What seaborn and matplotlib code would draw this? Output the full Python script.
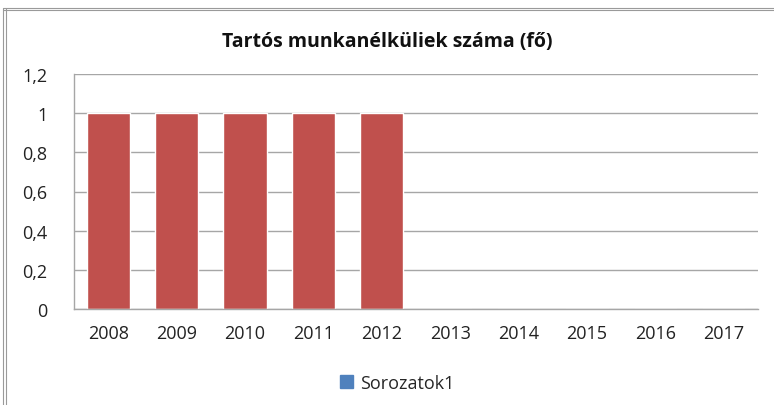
import matplotlib
matplotlib.use("Agg")
import matplotlib.pyplot as plt
import matplotlib.patches as mpatches
import seaborn as sns
import pandas as pd

# data
years = ["2008", "2009", "2010", "2011", "2012", "2013", "2014", "2015", "2016", "2017"]
values = [1, 1, 1, 1, 1, 0, 0, 0, 0, 0]
y_ticks = [0, 0.2, 0.4, 0.6, 0.8, 1.0, 1.2]
y_labels = ["0", "0,2", "0,4", "0,6", "0,8", "1", "1,2"]
title = "Tartós munkanélküliek száma (fő)"
series_name = "Sorozatok1"

df = pd.DataFrame({"year": years, "value": values})

sns.set_style("white")
plt.rcParams["font.family"] = ["Open Sans", "DejaVu Sans"]

fig = plt.figure(figsize=(7.74, 4.06), dpi=100)
ax = fig.add_axes([74 / 774, 96 / 406, 684 / 774, 235 / 406])

sns.barplot(data=df, x="year", y="value", color="#C0504D", saturation=1,
            width=0.63, ax=ax)

ax.set_ylim(0, 1.2)
ax.set_xlim(-0.5, len(years) - 0.5)
ax.set_yticks(y_ticks)
ax.set_yticklabels(y_labels)
ax.yaxis.grid(True, color="#A6A6A6", linewidth=1)
ax.set_axisbelow(True)
ax.set_xlabel("")
ax.set_ylabel("")
ax.tick_params(axis="both", length=0, labelsize=13, colors="#222222")
ax.tick_params(axis="x", pad=11)
ax.tick_params(axis="y", pad=19)

for side in ["top", "right"]:
    ax.spines[side].set_visible(False)
for side in ["left", "bottom"]:
    ax.spines[side].set_color("#A6A6A6")
    ax.spines[side].set_linewidth(1)

fig.text(0.5, 1 - 42 / 406, title, ha="center", va="center",
         fontsize=14, fontweight="bold", color="#111111")

# legend (blue swatch as in the original)
handle = mpatches.Patch(color="#4F81BD", label=series_name)
fig.legend(handles=[handle], loc="center", bbox_to_anchor=(397 / 774, 1 - 384 / 406),
           frameon=False, fontsize=13, handlelength=0.7, handleheight=0.7,
           handletextpad=0.4)

# chart frame (double gray line on left and top)
for off in (3, 6):
    fig.add_artist(plt.Line2D([off / 774, off / 774], [0, 1 - 9 / 406],
                              transform=fig.transFigure, color="#9A9A9A", linewidth=0.8))
for off in (9, 11):
    fig.add_artist(plt.Line2D([3 / 774, 1], [1 - off / 406, 1 - off / 406],
                              transform=fig.transFigure, color="#9A9A9A", linewidth=0.8))

fig.savefig("out.png", dpi=100)
